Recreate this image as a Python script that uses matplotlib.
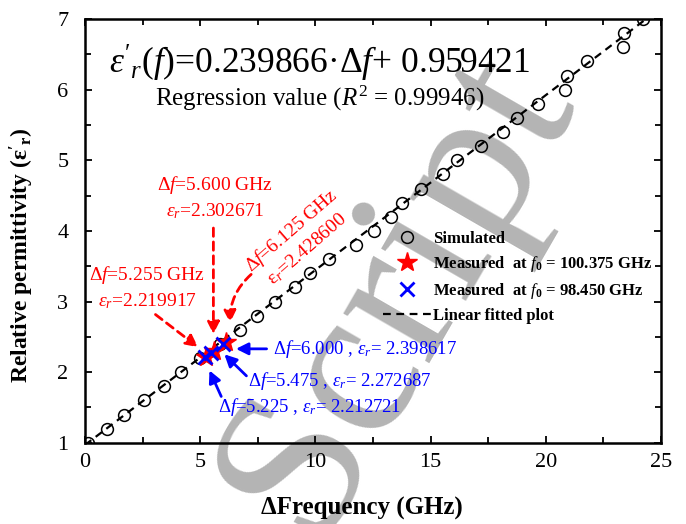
import matplotlib
matplotlib.use("Agg")
import matplotlib.pyplot as plt
import numpy as np

# ---- data ----
sim_df = [0.14, 0.94, 1.71, 2.54, 3.41, 4.17, 5.0, 5.85, 6.72, 7.46, 8.26, 9.13,
          9.78, 10.58, 11.74, 12.54, 13.26, 13.77, 14.57, 15.54, 16.13, 17.2,
          18.16, 18.77, 19.64, 20.83, 20.94, 21.77, 23.33, 23.38, 24.2]
sim_eps = [1.0, 1.2, 1.4, 1.6, 1.8, 2.0, 2.2, 2.4, 2.6, 2.8, 3.0, 3.2, 3.4, 3.6,
           3.8, 4.0, 4.2, 4.4, 4.6, 4.8, 5.0, 5.2, 5.4, 5.6, 5.8, 6.0, 6.2, 6.4,
           6.6, 6.8, 7.0]
meas100_df = [5.255, 5.600, 6.125]
meas100_eps = [2.219917, 2.302671, 2.428600]
meas98_df = [5.225, 5.475, 6.000]
meas98_eps = [2.212721, 2.272687, 2.398617]
# fitted line as drawn in the figure (end points)
fit_df = [0.0, 24.35]
fit_eps = [0.97, 7.0]

plt.rcParams['font.family'] = ['Liberation Serif', 'DejaVu Serif']
plt.rcParams['mathtext.fontset'] = 'custom'
plt.rcParams['mathtext.rm'] = 'Liberation Serif'
plt.rcParams['mathtext.it'] = 'Liberation Serif:italic'
plt.rcParams['mathtext.bf'] = 'Liberation Serif:bold'

fig = plt.figure(figsize=(6.86, 5.24), dpi=100)
ax = fig.add_axes([0.124, 0.155, 0.8396, 0.8087])

# watermark
ax.text(13.55, 3.15, "Script", fontsize=156, color='#b4b4b4', rotation=60,
        ha='center', va='center', rotation_mode='anchor', zorder=0.5, clip_on=False)

ax.plot(fit_df, fit_eps, color='black', ls=(0, (3.5, 2.5)), lw=1.6,
        zorder=2, label='Linear fitted plot')
ax.plot(sim_df, sim_eps, ls='none', marker='o', ms=8.5, mfc='none', mec='black',
        mew=1.1, zorder=3, label='Simulated')
ax.plot(meas100_df, meas100_eps, ls='none', marker='*', ms=15, color='red',
        zorder=4, label=r'Measured  at $\mathit{f}_\mathbf{0}$ = 100.375 GHz')
ax.plot(meas98_df, meas98_eps, ls='none', marker='x', ms=10, mew=2, color='blue',
        zorder=5, label=r'Measured  at $\mathit{f}_\mathbf{0}$ = 98.450 GHz')

ax.set_xlim(0, 25)
ax.set_ylim(1, 7)
ax.set_xticks([0, 5, 10, 15, 20, 25])
ax.set_yticks([1, 2, 3, 4, 5, 6, 7])
ax.set_xticks(np.arange(2.5, 25, 5), minor=True)
ax.set_yticks(np.arange(1.5, 7, 1), minor=True)
ax.tick_params(which='both', direction='in', top=True, right=True, width=1.3)
ax.tick_params(which='major', length=5, labelsize=16)
ax.tick_params(which='minor', length=4)
ax.tick_params(axis='x', which='major', pad=7)
ax.tick_params(axis='y', which='major', pad=12)
for s in ax.spines.values():
    s.set_linewidth(1.8)

ax.set_xlabel("ΔFrequency (GHz)", fontsize=18, fontweight='bold')
ax.set_ylabel(r"Relative permittivity ($\mathbf{ε'_r}$)", fontsize=17,
              fontweight='bold')
ax.xaxis.set_label_coords(0.481, -0.127)
ax.yaxis.set_label_coords(-0.085, 0.443)

# equation texts
ax.text(10.2, 6.37, r"$ε'_r(f)$=0.239866·Δ$f$+ 0.959421", fontsize=25.5,
        ha='center', va='center')
ax.text(10.17, 5.88, r"Regression value ($R^2$ = 0.99946)", fontsize=18,
        ha='center', va='center')

# red annotations
ax.text(5.65, 4.47, "Δ$f$=5.600 GHz\n$ε_r$=2.302671", color='red', fontsize=14,
        ha='center', va='center', linespacing=1.35)
ax.text(2.70, 3.20, "Δ$f$=5.255 GHz\n$ε_r$=2.219917", color='red', fontsize=14,
        ha='center', va='center', linespacing=1.35)
ax.text(9.3, 3.88, "Δ$f$=6.125 GHz\nε$_r$=2.428600", color='red', fontsize=14,
        ha='center', va='center', linespacing=1.2, rotation=41,
        rotation_mode='anchor')

rp = dict(arrowstyle='-|>', color='red', lw=2, ls=(0, (3, 2)), mutation_scale=18)
ax.annotate("", xy=(5.57, 2.50), xytext=(5.57, 4.08), arrowprops=rp)
ax.annotate("", xy=(5.0, 2.33), xytext=(2.96, 2.84), arrowprops=rp)
ax.annotate("", xy=(6.3, 2.66), xytext=(7.3, 3.41),
            arrowprops=dict(rp, connectionstyle='arc3,rad=0.25'))

# blue annotations
bp = dict(arrowstyle='-|>', color='blue', lw=2, mutation_scale=18)
ax.annotate("", xy=(6.43, 2.33), xytext=(8.0, 2.33), arrowprops=bp)
ax.annotate("", xy=(5.96, 2.28), xytext=(7.09, 1.92), arrowprops=bp)
ax.annotate("", xy=(5.35, 2.06), xytext=(5.96, 1.62), arrowprops=bp)
ax.text(8.17, 2.33, "Δ$f$=6.000 , $ε_r$= 2.398617", color='blue', fontsize=13.5,
        ha='left', va='center')
ax.text(7.09, 1.88, "Δ$f$=5.475 , $ε_r$= 2.272687", color='blue', fontsize=13.5,
        ha='left', va='center')
ax.text(5.78, 1.50, "Δ$f$=5.225 , $ε_r$= 2.212721", color='blue', fontsize=13.5,
        ha='left', va='center')

h, l = ax.get_legend_handles_labels()
order = [1, 2, 3, 0]
ax.legend([h[i] for i in order], [l[i] for i in order], loc='upper left',
          bbox_to_anchor=(0.505, 0.515), frameon=False,
          prop={'size': 12, 'weight': 'bold'}, handlelength=2.9,
          handletextpad=0.1, labelspacing=0.42, borderaxespad=0)

fig.savefig("out.png", dpi=100)
